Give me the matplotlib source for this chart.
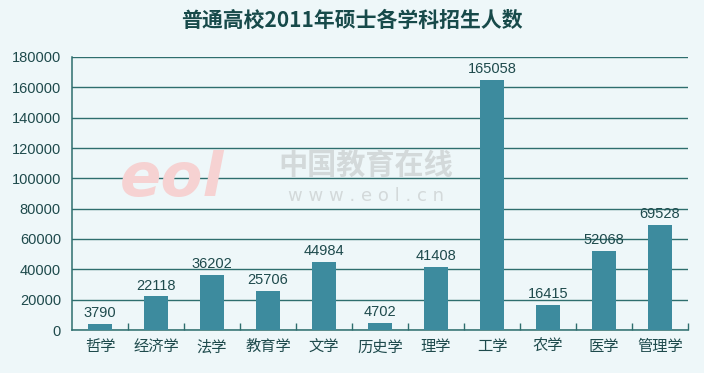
"""普通高校2011年硕士各学科招生人数 bar chart."""

import matplotlib

matplotlib.use("Agg")
import matplotlib.pyplot as plt

plt.rcParams["font.family"] = ["Noto Sans CJK SC", "DejaVu Sans"]

subjects = ["哲学", "经济学", "法学", "教育学", "文学", "历史学",
            "理学", "工学", "农学", "医学", "管理学"]
enrolment = [3790, 22118, 36202, 25706, 44984, 4702,
             41408, 165058, 16415, 52068, 69528]
y_ticks = list(range(0, 180001, 20000))

BG = "#EEF7F9"
BAR = "#3D8B9E"
LINE = "#2E6E6E"
TEXT = "#1E4A4C"
DIGITS = "Liberation Sans"

fig = plt.figure(figsize=(7.04, 3.73), dpi=100, facecolor=BG)
ax = fig.add_axes([72 / 704, 1 - 330 / 373, 616 / 704, 273 / 373], facecolor=BG)

x = list(range(len(subjects)))
ax.bar(x, enrolment, width=0.42, color=BAR, zorder=3)
for xi, v in zip(x, enrolment):
    ax.text(xi, v + 2500, str(v), ha="center", va="bottom",
            fontsize=10.5, color=TEXT, family=DIGITS, zorder=4)

ax.set_xlim(-0.5, len(subjects) - 0.5)
ax.set_ylim(0, 180000)
ax.set_yticks(y_ticks)
ax.set_yticklabels([str(t) for t in y_ticks], fontsize=10.5, color=TEXT,
                   family=DIGITS)
ax.yaxis.grid(True, color=LINE, linewidth=1.0, zorder=1)
ax.tick_params(axis="y", length=0, pad=8)

ax.set_xticks(x)
ax.set_xticklabels(subjects, fontsize=11, color=TEXT)
ax.tick_params(axis="x", length=0, pad=6)
# small boundary ticks between categories
ax.set_xticks([i + 0.5 for i in x], minor=True)
ax.tick_params(axis="x", which="minor", direction="in", length=5,
               color=LINE, width=1)

for side in ("top", "right"):
    ax.spines[side].set_visible(False)
for side in ("left", "bottom"):
    ax.spines[side].set_color(LINE)
    ax.spines[side].set_linewidth(1.1)

# faint watermark
fig.text(0.245, 0.52, "eol", fontsize=44, color="#F6D2D2", fontweight="bold",
         style="italic", family="DejaVu Sans", ha="center", va="center", zorder=0)
fig.text(0.52, 0.558, "中国教育在线", fontsize=21, color="#D3D9DA",
         fontweight="bold", ha="center", va="center", zorder=0)
fig.text(0.52, 0.475, "w w w . e o l . c n", fontsize=13, color="#D3D9DA",
         family="DejaVu Sans", ha="center", va="center", zorder=0)

fig.text(0.5, 0.945, "普通高校2011年硕士各学科招生人数", fontsize=15,
         fontweight="bold", color="#174A4A", ha="center", va="center")

fig.savefig("out.png", dpi=100, facecolor=BG)
